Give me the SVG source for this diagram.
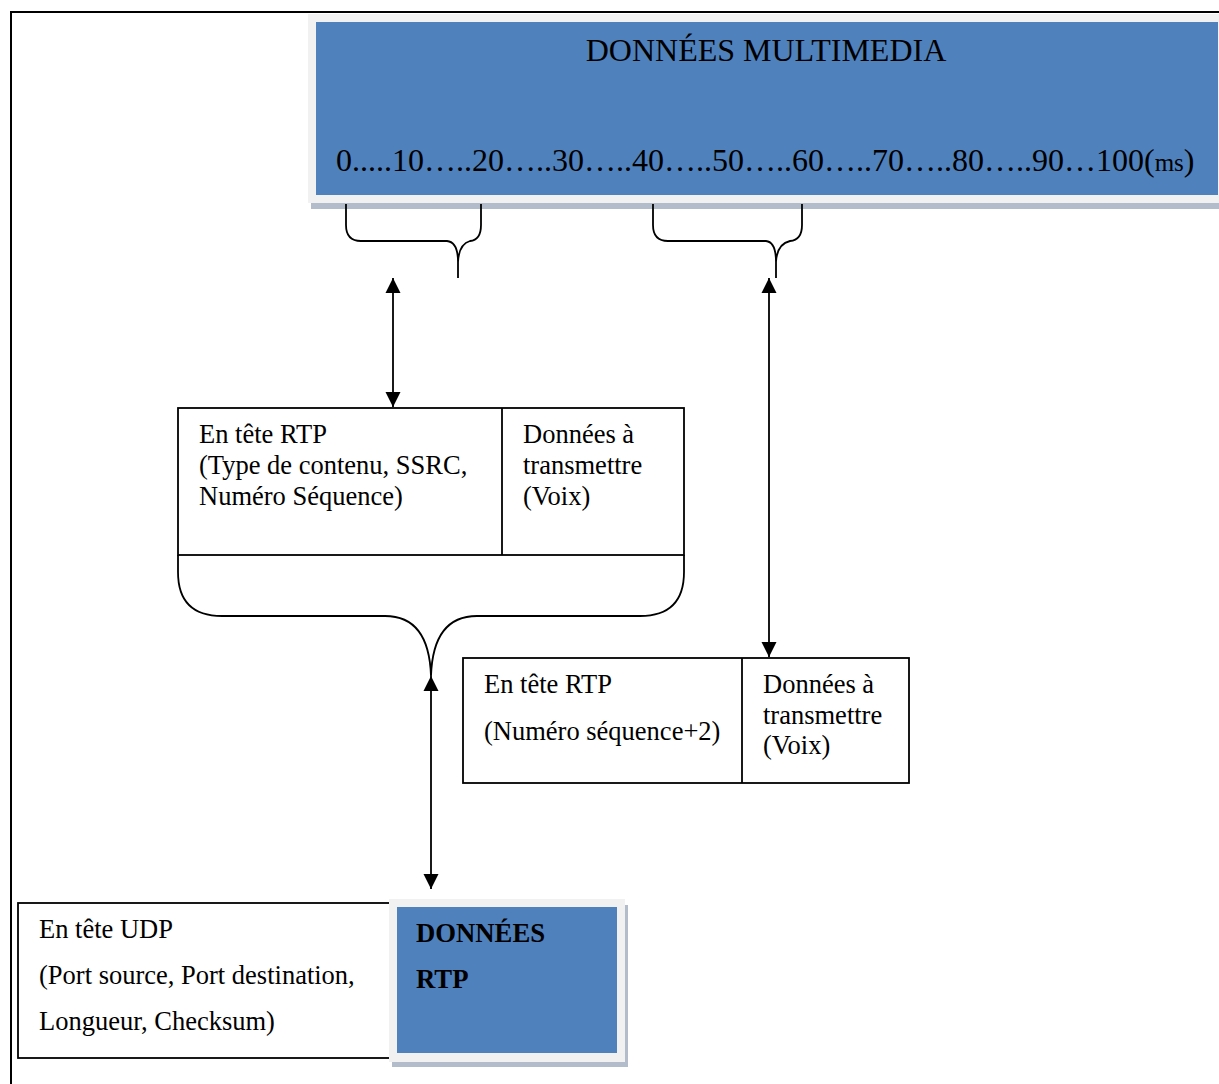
<svg xmlns="http://www.w3.org/2000/svg" width="1219" height="1084" viewBox="0 0 1219 1084">
  <style>
    .t { font-family: "Liberation Serif", "Times New Roman", serif; fill: #000; }
    .box { fill: #fff; stroke: #000; stroke-width: 1.8; }
    .ln { fill: none; stroke: #000; stroke-width: 1.8; }
    .frame { fill: #f1f1f1; }
    .blue { fill: #4f81bd; }
    .shadow { fill: #b3bccb; }
  </style>
  <defs>
    <marker id="head" viewBox="0 0 16 16" refX="16" refY="8" markerWidth="15" markerHeight="16" markerUnits="userSpaceOnUse" orient="auto-start-reverse">
      <path d="M0,0 L16,8 L0,16 z" fill="#000"/>
    </marker>
  </defs>

  <rect width="1219" height="1084" fill="#fff"/>

  <!-- page frame -->
  <g id="page-frame">
    <line x1="10" y1="12" x2="1219" y2="12" stroke="#000" stroke-width="2"/>
    <line x1="11" y1="12" x2="11" y2="1084" stroke="#000" stroke-width="2"/>
  </g>

  <!-- multimedia stream -->
  <g id="multimedia">
    <rect class="shadow" x="311" y="203" width="908" height="6"/>
    <rect class="frame" x="308" y="14" width="911" height="189"/>
    <rect class="blue" x="316" y="22" width="902" height="173"/>
    <text class="t" x="766" y="61" font-size="32" text-anchor="middle">DONNÉES MULTIMEDIA</text>
    <text class="t" x="336" y="171" font-size="32">0.....10…..20…..30…..40…..50…..60…..70…..80…..90…100<tspan>(</tspan><tspan font-size="25">ms</tspan>)</text>
  </g>

  <!-- first RTP packet -->
  <g id="rtp-packet-1">
    <rect class="box" x="178" y="408" width="506" height="147"/>
    <line class="ln" x1="502" y1="408" x2="502" y2="555"/>
    <text class="t" font-size="26.5">
      <tspan x="199" y="443">En tête RTP</tspan>
      <tspan x="199" y="474">(Type de contenu, SSRC,</tspan>
      <tspan x="199" y="505">Numéro Séquence)</tspan>
    </text>
    <text class="t" font-size="26.5">
      <tspan x="523" y="443">Données à</tspan>
      <tspan x="523" y="474">transmettre</tspan>
      <tspan x="523" y="505">(Voix)</tspan>
    </text>
  </g>

  <!-- second RTP packet -->
  <g id="rtp-packet-2">
    <rect class="box" x="463" y="658" width="446" height="125"/>
    <line class="ln" x1="742" y1="658" x2="742" y2="783"/>
    <text class="t" font-size="26.5">
      <tspan x="484" y="693">En tête RTP</tspan>
      <tspan x="484" y="740">(Numéro séquence+2)</tspan>
    </text>
    <text class="t" font-size="26.5">
      <tspan x="763" y="693">Données à</tspan>
      <tspan x="763" y="724">transmettre</tspan>
      <tspan x="763" y="754">(Voix)</tspan>
    </text>
  </g>

  <!-- UDP datagram -->
  <g id="udp-header">
    <rect class="box" x="18" y="903" width="390" height="155"/>
    <text class="t" font-size="26.5">
      <tspan x="39" y="938">En tête UDP</tspan>
      <tspan x="39" y="984">(Port source, Port destination,</tspan>
      <tspan x="39" y="1030">Longueur, Checksum)</tspan>
    </text>
  </g>

  <g id="rtp-data">
    <rect class="shadow" x="392" y="1061" width="236" height="6"/>
    <rect class="shadow" x="624" y="905" width="4" height="162"/>
    <rect class="frame" x="389" y="899" width="236" height="163"/>
    <rect class="blue" x="397" y="907" width="220" height="146"/>
    <text class="t" font-size="26.7" font-weight="bold">
      <tspan x="416" y="942">DONNÉES</tspan>
      <tspan x="416" y="988">RTP</tspan>
    </text>
  </g>

  <!-- braces and arrows -->
  <g id="connectors">
    <path class="ln" d="M346,204 L346,225 Q346,241 361,241 L447,241 Q458,242 458,262 L458,278 M481,204 L481,225 Q481,240 470,241 Q459,244 458,262"/>
    <path class="ln" d="M653,204 L653,225 Q653,241 668,241 L766,241 Q776,242 776,262 L776,278 M802,204 L802,225 Q802,240 790,241 Q777,244 776,262"/>
    <path class="ln" d="M178,555 L178,572 Q178,616 222,616 L385,616 Q429,616 431,676 M684,555 L684,572 Q684,616 640,616 L477,616 Q433,616 431,676"/>
    <line class="ln" x1="393" y1="278" x2="393" y2="407" marker-start="url(#head)" marker-end="url(#head)"/>
    <line class="ln" x1="769" y1="278" x2="769" y2="657" marker-start="url(#head)" marker-end="url(#head)"/>
    <line class="ln" x1="431" y1="676" x2="431" y2="889" marker-start="url(#head)" marker-end="url(#head)"/>
  </g>
</svg>
